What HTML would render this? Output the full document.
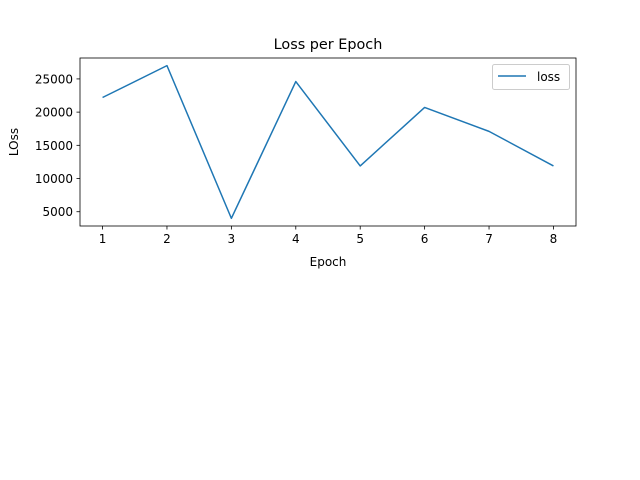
<!DOCTYPE html>
<html><head><meta charset="utf-8"><style>
body{margin:0;background:#fff;}
svg{display:block;font-family:"DejaVu Sans","Liberation Sans",sans-serif;}
</style></head><body>
<svg id="chart" width="640" height="480" xmlns="http://www.w3.org/2000/svg">
<rect x="0" y="0" width="640" height="480" fill="#fff"/>
<g id="plot"></g>
</svg>
<script>
const epochs = [1,2,3,4,5,6,7,8];
const lossValues = [22200,27000,4000,24600,11900,20700,17100,11900];
const yTicks = [5000,10000,15000,20000,25000];

const NS="http://www.w3.org/2000/svg";
const g=document.getElementById('plot');
const L=80,R=576,T=58,B=226;
const xmin=Math.min(...epochs),xmax=Math.max(...epochs),xp=(xmax-xmin)*0.05;
const ymin=Math.min(...lossValues),ymax=Math.max(...lossValues),yp=(ymax-ymin)*0.05;
function xs(v){return L+(v-(xmin-xp))/((xmax+xp)-(xmin-xp))*(R-L);}
function ys(v){return B-(v-(ymin-yp))/((ymax+yp)-(ymin-yp))*(B-T);}
function mk(tag,attrs,parent){const e=document.createElementNS(NS,tag);for(const k in attrs)e.setAttribute(k,attrs[k]);(parent||g).appendChild(e);return e;}

let t=mk('text',{x:(L+R)/2,y:49,'text-anchor':'middle','font-size':'14.4',fill:'#000'});
t.textContent='Loss per Epoch';



epochs.forEach(v=>{const x=xs(v);
 const l=mk('line',{x1:x,x2:x,y1:B,y2:B+3.5,stroke:'#000','stroke-width':0.8});
 
 
 const tx=mk('text',{x:x,y:B+17,'text-anchor':'middle','font-size':'12',fill:'#000'});tx.textContent=v;
 
 
});
yTicks.forEach(v=>{const y=ys(v);
 const l=mk('line',{x1:L-3.5,x2:L,y1:y,y2:y,stroke:'#000','stroke-width':0.8});
 
 
 const tx=mk('text',{x:L-7,y:y+4.5,'text-anchor':'end','font-size':'12',fill:'#000'});tx.textContent=v;
 
 
});
let xl=mk('text',{x:(L+R)/2,y:266,'text-anchor':'middle','font-size':'12',fill:'#000'});xl.textContent='Epoch';


let yl=mk('text',{x:0,y:0,'text-anchor':'middle','font-size':'12',fill:'#000',transform:`translate(18,${(T+B)/2}) rotate(-90)`});yl.textContent='LOss';



let pts=epochs.map((e,i)=>xs(e).toFixed(2)+','+ys(lossValues[i]).toFixed(2)).join(' ');
let pl=mk('polyline',{points:pts,fill:'none',stroke:'#1f77b4','stroke-width':1.5,'stroke-linejoin':'round'});



let fr=mk('rect',{x:L,y:T,width:R-L,height:B-T,fill:'none',stroke:'#000','stroke-width':0.8});



let lg=mk('g',{});


mk('rect',{x:492.5,y:64.5,width:77,height:25,rx:2,fill:'#fff','fill-opacity':0.8,stroke:'#ccc','stroke-width':1},lg);
mk('line',{x1:498,x2:526,y1:76,y2:76,stroke:'#1f77b4','stroke-width':1.5},lg);
let lt=mk('text',{x:537,y:81,'font-size':'12',fill:'#000'},lg);lt.textContent='loss';


</script>
</body></html>
